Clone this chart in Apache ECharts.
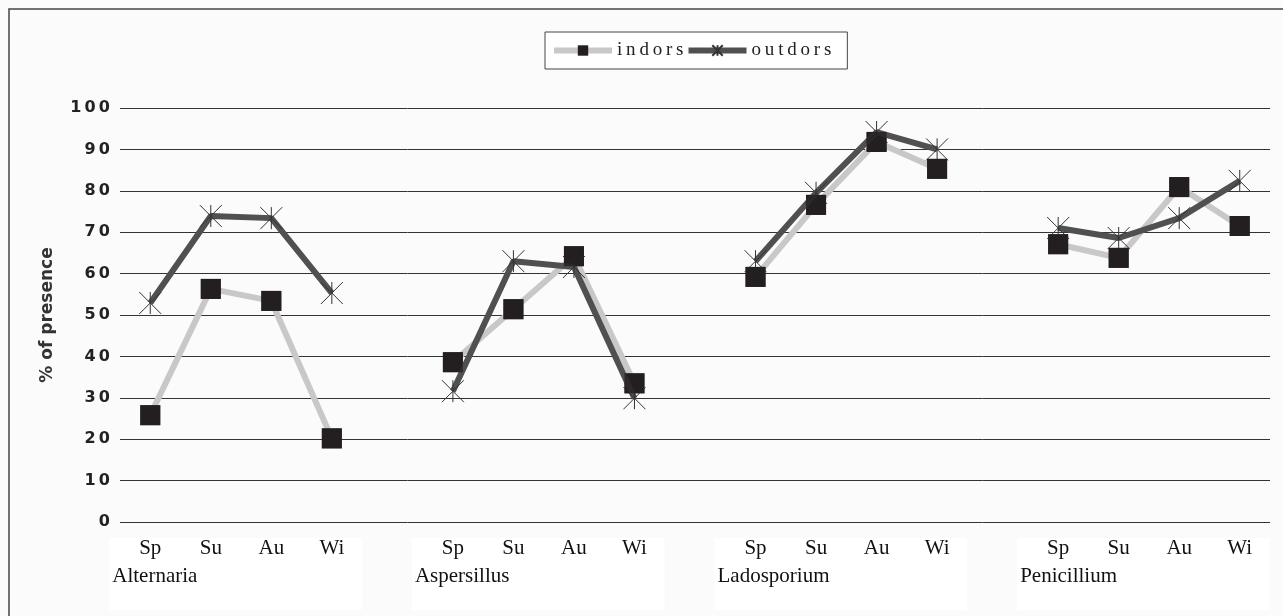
<!DOCTYPE html>
<html>
<head>
<meta charset="utf-8">
<script src="https://cdn.jsdelivr.net/npm/echarts@6/dist/echarts.min.js"></script>
<style>
  html, body { margin: 0; padding: 0; background: #fbfbfb; }
  #main { width: 1283px; height: 616px; }
</style>
</head>
<body>
<div id="main"></div>
<script>
// fungi groups, seasons within each group
const groups = ['Alternaria', 'Aspersillus', 'Ladosporium', 'Penicillium'];
const seasons = ['Sp', 'Su', 'Au', 'Wi'];
const yTicks = [0, 10, 20, 30, 40, 50, 60, 70, 80, 90, 100];

// % of presence, per group (Sp, Su, Au, Wi)
const indors = [
  [25.8, 56.3, 53.4, 20.2],
  [38.6, 51.4, 64.2, 33.5],
  [59.2, 76.6, 91.8, 85.3],
  [67.1, 63.8, 80.9, 71.5]
];
const outdors = [
  [52.9, 73.9, 73.4, 55.3],
  [31.6, 63.0, 61.6, 29.9],
  [63.0, 79.5, 94.2, 90.0],
  [71.0, 68.6, 73.4, 82.4]
];

// flatten into one category axis, with an empty slot between groups
const categories = [];
const indorsData = [];
const outdorsData = [];
const groupStart = [];
groups.forEach(function (g, gi) {
  if (gi > 0) {
    categories.push('');
    indorsData.push(null);
    outdorsData.push(null);
  }
  groupStart.push(categories.length);
  seasons.forEach(function (s, si) {
    categories.push(s);
    indorsData.push(indors[gi][si]);
    outdorsData.push(outdors[gi][si]);
  });
});

const spaced = function (s) { return String(s).split('').join('\u2009'); };
const starPath = 'path://M0,0L20,20M20,0L0,20M10,0L10,20';

const myChart = echarts.init(document.getElementById('main'));
myChart.setOption({
  backgroundColor: '#fbfbfb',
  animation: false,
  legend: {
    top: 32,
    left: 545,
    data: ['indors', 'outdors'],
    itemWidth: 58,
    itemHeight: 13,
    itemGap: 2,
    padding: [9, 16, 9, 6],
    borderColor: '#444',
    borderWidth: 1,
    backgroundColor: '#fff',
    formatter: spaced,
    lineStyle: { width: 6 },
    textStyle: { fontFamily: 'Liberation Serif', fontSize: 19, color: '#222' }
  },
  grid: { left: 120, right: 13, top: 108, bottom: 94 },
  xAxis: {
    type: 'category',
    data: categories,
    boundaryGap: true,
    axisLine: { show: false },
    axisTick: { show: false },
    axisLabel: {
      interval: 0,
      margin: 16,
      fontFamily: 'Liberation Serif',
      fontSize: 21,
      color: '#111'
    }
  },
  yAxis: {
    type: 'value',
    min: 0,
    max: 100,
    interval: 10,
    name: '% of presence',
    nameLocation: 'middle',
    nameGap: 64,
    nameTextStyle: { fontFamily: 'DejaVu Sans', fontWeight: 'bold', fontSize: 17, color: '#333' },
    axisLine: { show: false },
    axisTick: { show: false },
    axisLabel: {
      margin: 10,
      fontFamily: 'DejaVu Sans',
      fontWeight: 'bold',
      fontSize: 16,
      color: '#222',
      formatter: function (v) { return spaced(v); }
    },
    splitLine: { lineStyle: { color: '#333', width: 1 } }
  },
  series: [
    {
      name: 'indors',
      type: 'line',
      data: indorsData,
      z: 2,
      symbol: 'rect',
      symbolSize: 20,
      lineStyle: { color: '#c8c8c8', width: 6 },
      itemStyle: { color: '#231f20' }
    },
    {
      name: 'outdors',
      type: 'line',
      data: outdorsData,
      z: 3,
      symbol: starPath,
      symbolSize: 22,
      lineStyle: { color: '#505050', width: 6 },
      itemStyle: { color: '#505050', borderColor: '#333', borderWidth: 1 }
    },
    {
      // indoor squares sit on top of both lines
      name: 'indors-marks',
      type: 'scatter',
      data: indorsData,
      z: 4,
      symbol: 'rect',
      symbolSize: 20,
      itemStyle: { color: '#231f20' }
    }
  ]
});

// group names under the season labels, with the white label boxes
const extra = [
  {
    type: 'rect',
    shape: { x: 9, y: 9, width: 1300, height: 620 },
    style: { fill: 'none', stroke: '#444', lineWidth: 1.5 },
    z: 0
  }
];
groupStart.forEach(function (idx, gi) {
  const x0 = myChart.convertToPixel({ xAxisIndex: 0 }, idx) - 38;
  const x1 = myChart.convertToPixel({ xAxisIndex: 0 }, idx + 3) + 30;
  extra.push({
    type: 'rect',
    shape: { x: x0 - 3, y: 538, width: x1 - x0 + 3, height: 72 },
    style: { fill: '#ffffff' },
    z: -1
  });
  extra.push({
    type: 'text',
    x: x0, y: 566,
    style: {
      text: groups[gi],
      font: '21px "Liberation Serif"',
      fill: '#111'
    },
    z: 5
  });
});
myChart.setOption({ graphic: extra });
window.onresize = myChart.resize;
</script>
</body>
</html>
